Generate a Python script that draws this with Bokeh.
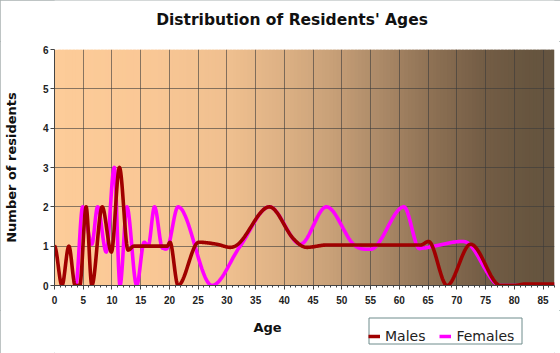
import numpy as np
from bokeh.plotting import figure
from bokeh.layouts import column
from bokeh.models import Range1d, Label, Legend, LegendItem, FixedTicker
from bokeh.embed import file_html
from bokeh.resources import INLINE

# ---- data ----
male_age = [0, 1.3, 2.5, 3.6, 4.4, 5.5, 6.5, 8.3, 9.9, 11.3, 12.8, 13.8, 16, 19.6,
            20.1, 21.5, 25.1, 28.2, 30.6, 32.3, 37.4, 41.5, 43.9, 47.4, 50, 55, 60,
            63.7, 65.1, 68.3, 72.4, 77.6, 80, 82, 87]
male_val = [1, 0, 1, 0, 0, 2, 0, 2, 0.85, 3, 0.9, 1, 1, 1,
            1.1, 0, 1.1, 1.05, 0.97, 1.1, 2, 1.2, 0.97, 1.03, 1.03, 1.03, 1.03,
            1.03, 1.12, 0, 1.05, 0, 0, 0.04, 0.04]

female_age = [3.7, 4.9, 6.5, 7.5, 9.0, 10.4, 11.4, 12.6, 14.3, 15.6, 16.3, 17.4, 18.8,
              19.8, 21.5, 27.4, 32.3, 37.4, 42.8, 47.3, 52, 55, 60.8, 63.1, 64, 66,
              70.9, 72.4, 77.6, 87]
female_val = [0, 2, 1.05, 2, 0.85, 3, 0, 2, 0, 1.1, 1, 2, 0.95,
              1, 2, 0, 1, 2, 1.05, 2, 1.05, 0.92, 2, 1, 0.95, 1,
              1.12, 1.02, 0, 0]

x_ticks = list(range(0, 90, 5))
y_ticks = [0, 1, 2, 3, 4, 5, 6]
series_names = ["Males", "Females"]
series_colors = ["#a00000", "#ff00ff"]
title_text = "Distribution of Residents' Ages"


def smooth(xs, ys, n=24):
    xs = np.asarray(xs, float)
    ys = np.asarray(ys, float)
    k = len(xs)
    m = np.zeros(k)
    for i in range(1, k - 1):
        d0 = ys[i] - ys[i - 1]
        d1 = ys[i + 1] - ys[i]
        if d0 * d1 > 0:
            m[i] = (ys[i + 1] - ys[i - 1]) / (xs[i + 1] - xs[i - 1])
    ox, oy = [], []
    for i in range(k - 1):
        h = xs[i + 1] - xs[i]
        t = np.linspace(0, 1, n, endpoint=(i == k - 2))
        h00 = 2 * t**3 - 3 * t**2 + 1
        h10 = t**3 - 2 * t**2 + t
        h01 = -2 * t**3 + 3 * t**2
        h11 = t**3 - t**2
        ox.extend(xs[i] + t * h)
        oy.extend(h00 * ys[i] + h10 * h * m[i] + h01 * ys[i + 1] + h11 * h * m[i + 1])
    return ox, oy


FONT = "Liberation Sans"
WFONT = "DejaVu Sans"


def strip(height):
    s = figure(width=560, height=height, output_backend="svg", toolbar_location=None,
               x_range=Range1d(54, 554), y_range=Range1d(0, height),
               min_border_left=54, min_border_right=6, min_border_top=0,
               min_border_bottom=0, x_axis_type=None, y_axis_type=None)
    s.border_fill_color = "white"
    s.background_fill_color = "white"
    s.outline_line_color = None
    s.grid.visible = False
    return s


# top strip with the title
top = strip(41)
top.add_layout(Label(x=291.5, y=22, text=title_text, text_align="center",
                     text_baseline="middle", text_font=WFONT, text_font_size="15.5px",
                     text_font_style="bold", text_color="#111111"))

# main plot
p = figure(width=560, height=269, output_backend="svg", toolbar_location=None,
           x_range=Range1d(0, 87), y_range=Range1d(0, 6),
           min_border_left=54, min_border_right=6, min_border_top=8,
           min_border_bottom=25)
p.border_fill_color = "white"
p.background_fill_color = None
p.outline_line_color = None

# gradient background (decoration)
stops = [(0.0, (253, 204, 153)), (0.2, (249, 199, 149)), (0.35, (239, 191, 143)),
         (0.45, (222, 178, 133)), (0.55, (201, 161, 121)), (0.65, (172, 138, 104)),
         (0.75, (143, 114, 85)), (0.85, (117, 94, 70)), (0.95, (103, 85, 63)),
         (1.0, (100, 84, 64))]
N = 140
fr = (np.arange(N) + 0.5) / N
sp = [s[0] for s in stops]
cols = []
for f in fr:
    rgb = [int(round(np.interp(f, sp, [s[1][c] for s in stops]))) for c in range(3)]
    cols.append("#%02x%02x%02x" % tuple(rgb))
edges = np.linspace(0, 87, N + 1)
step = edges[1] - edges[0]
bg = p.quad(left=edges[:-1], right=np.minimum(edges[1:] + step * 0.8, 87),
            bottom=0, top=6, fill_color=cols, line_color=None)
bg.level = "image"

# grid
p.xgrid.ticker = FixedTicker(ticks=x_ticks)
p.ygrid.ticker = FixedTicker(ticks=y_ticks)
for g in (p.xgrid, p.ygrid):
    g.grid_line_color = "#3a3a3a"
    g.grid_line_alpha = 0.6
    g.grid_line_width = 1

# axes
p.xaxis.ticker = FixedTicker(ticks=x_ticks, minor_ticks=list(range(0, 88)))
p.yaxis.ticker = FixedTicker(ticks=y_ticks)
for ax in (p.xaxis, p.yaxis):
    ax.axis_line_color = "#444444"
    ax.major_tick_line_color = "#444444"
    ax.minor_tick_line_color = "#444444"
    ax.major_label_text_font = FONT
    ax.major_label_text_font_size = "10px"
    ax.major_label_text_font_style = "bold"
    ax.major_label_text_color = "#222222"
p.xaxis.major_tick_out = 4
p.xaxis.major_tick_in = 0
p.xaxis.minor_tick_out = 2
p.xaxis.minor_tick_in = 0
p.xaxis.major_label_standoff = 6
p.yaxis.major_tick_out = 4
p.yaxis.major_tick_in = 0
p.yaxis.minor_tick_line_color = None
p.yaxis.major_label_standoff = 2
p.yaxis.axis_label = "Number of residents"
p.yaxis.axis_label_text_font = WFONT
p.yaxis.axis_label_text_font_size = "13px"
p.yaxis.axis_label_text_font_style = "bold"
p.yaxis.axis_label_text_color = "#111111"
p.yaxis.axis_label_standoff = 21

# series (females below, males on top)
fx, fy = smooth(female_age, female_val)
mx, my = smooth(male_age, male_val)
p.line(fx, fy, line_color=series_colors[1], line_width=3.6, line_join="round")
p.line(mx, my, line_color=series_colors[0], line_width=3.6, line_join="round")

# bottom strip: axis title and legend (strip coordinates are pixels)
q = strip(43)
q.add_layout(Label(x=267, y=26, text="Age", text_align="center",
                   text_baseline="middle", text_font=WFONT, text_font_size="13px",
                   text_font_style="bold", text_color="#111111"))
# legend frame
q.quad(left=368.5, right=521.5, bottom=9.5, top=35.5, fill_color=None,
       line_color="#6f8c8c", line_width=1)
dm = q.line([-100, -99], [-100, -100], line_color=series_colors[0], line_width=3.5)
df = q.line([-100, -99], [-100, -100], line_color=series_colors[1], line_width=3.5)
legend = Legend(items=[LegendItem(label=series_names[0], renderers=[dm]),
                       LegendItem(label=series_names[1], renderers=[df])],
                location=(314, 9), orientation="horizontal",
                label_text_font=WFONT, label_text_font_size="14px",
                label_text_color="#222222", glyph_width=12, glyph_height=12,
                label_standoff=5, spacing=14, padding=4, margin=0,
                border_line_color=None, background_fill_alpha=0)
q.add_layout(legend, "center")

layout = column(top, p, q, spacing=0)
layout.styles = {"outline": "1px solid #a8b0b0", "outline-offset": "-1px"}
open("out.html", "w").write(file_html(layout, INLINE))
